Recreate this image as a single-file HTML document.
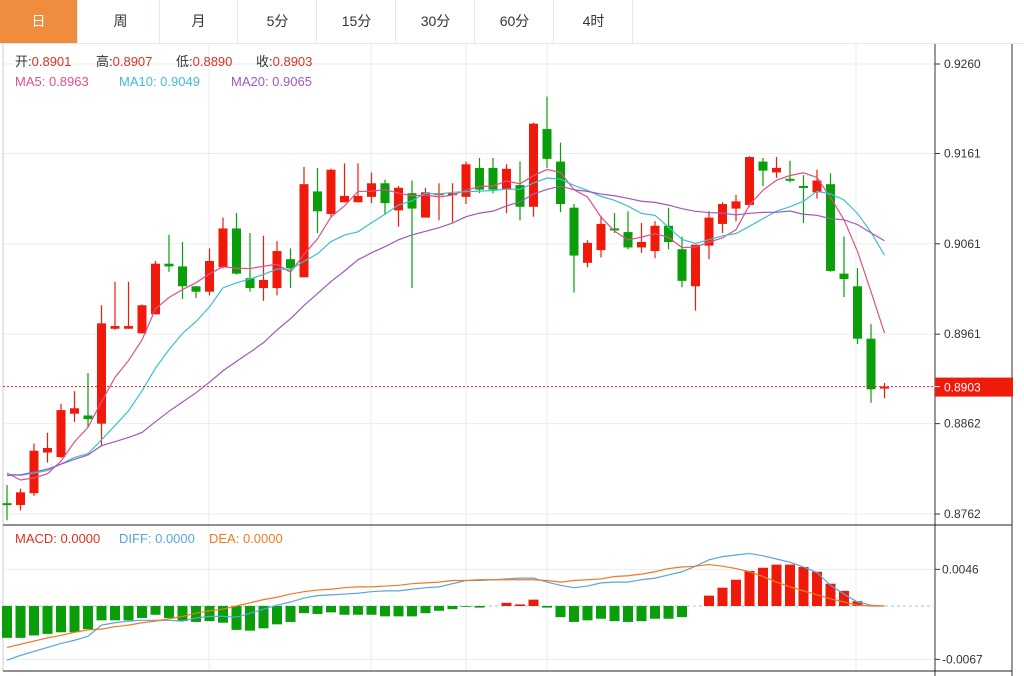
<!DOCTYPE html>
<html><head><meta charset="utf-8">
<style>
body{margin:0;width:1024px;height:676px;background:#fff;font-family:"Liberation Sans","Noto Sans CJK SC",sans-serif;overflow:hidden;position:relative}
.tabs{position:absolute;left:0;top:0;width:1024px;height:44px;border-bottom:1px solid #e3e6ea;box-sizing:border-box}
.tab{position:absolute;top:0;height:43px;width:78px;line-height:43px;text-align:center;font-size:14px;color:#333;border-right:1px solid #e3e6ea;box-sizing:border-box}
.tab.on{background:#f08c3e;color:#fff}
svg{position:absolute;left:0;top:0}
</style></head><body>
<div class="tabs">
<div class="tab on" style="left:0">日</div>
<div class="tab" style="left:82px">周</div>
<div class="tab" style="left:160px">月</div>
<div class="tab" style="left:239px">5分</div>
<div class="tab" style="left:318px">15分</div>
<div class="tab" style="left:397px">30分</div>
<div class="tab" style="left:476px">60分</div>
<div class="tab" style="left:555px">4时</div>
</div>
<svg id="chart" width="1024" height="676"></svg>
<script>
const opens=[0.8774,0.8772,0.8785,0.8830,0.8825,0.8873,0.8871,0.8862,0.8967,0.8967,0.8962,0.8983,0.9039,0.9036,0.9014,0.9008,0.9035,0.9078,0.9023,0.9012,0.9012,0.9044,0.9024,0.9119,0.9094,0.9107,0.9107,0.9113,0.9128,0.9098,0.9117,0.9090,0.9116,0.9116,0.9113,0.9145,0.9145,0.9121,0.9126,0.9102,0.9188,0.9152,0.9101,0.9040,0.9054,0.9078,0.9074,0.9057,0.9053,0.9081,0.9055,0.9014,0.9059,0.9083,0.9100,0.9104,0.9152,0.9140,0.9133,0.9125,0.9118,0.9127,0.9028,0.9014,0.8956,0.8901];
const highs=[0.8794,0.8790,0.8840,0.8852,0.8884,0.8898,0.8918,0.8993,0.9019,0.9019,0.8994,0.9042,0.9071,0.9063,0.9014,0.9056,0.9090,0.9095,0.9073,0.9070,0.9064,0.9056,0.9146,0.9145,0.9144,0.9150,0.9150,0.9140,0.9132,0.9125,0.9131,0.9123,0.9128,0.9128,0.9152,0.9156,0.9156,0.9149,0.9152,0.9195,0.9224,0.9173,0.9105,0.9065,0.9092,0.9095,0.9097,0.9084,0.9086,0.9101,0.9069,0.9060,0.9097,0.9107,0.9115,0.9158,0.9156,0.9157,0.9153,0.9137,0.9143,0.9139,0.9069,0.9034,0.8972,0.8907];
const lows=[0.8755,0.8766,0.8782,0.8819,0.8824,0.8864,0.8858,0.8838,0.8966,0.8967,0.8962,0.8983,0.9030,0.9000,0.9001,0.9004,0.9034,0.9027,0.9008,0.8998,0.9004,0.9012,0.9024,0.9073,0.9090,0.9107,0.9107,0.9106,0.9093,0.9080,0.9012,0.9090,0.9087,0.9085,0.9105,0.9117,0.9117,0.9095,0.9087,0.9091,0.9145,0.9096,0.9007,0.9035,0.9046,0.9073,0.9055,0.9051,0.9045,0.9055,0.9013,0.8987,0.9044,0.9073,0.9086,0.9102,0.9125,0.9134,0.9129,0.9084,0.9111,0.9030,0.9002,0.8950,0.8885,0.8890];
const closes=[0.8772,0.8786,0.8832,0.8835,0.8877,0.8879,0.8867,0.8973,0.8970,0.8970,0.8993,0.9039,0.9036,0.9014,0.9008,0.9042,0.9078,0.9028,0.9012,0.9021,0.9053,0.9034,0.9127,0.9097,0.9143,0.9114,0.9114,0.9128,0.9106,0.9123,0.9100,0.9118,0.9117,0.9117,0.9149,0.9121,0.9121,0.9144,0.9102,0.9194,0.9155,0.9105,0.9048,0.9062,0.9083,0.9077,0.9057,0.9063,0.9081,0.9063,0.9020,0.9060,0.9090,0.9105,0.9108,0.9157,0.9142,0.9145,0.9131,0.9123,0.9131,0.9031,0.9022,0.8956,0.8900,0.8903];
const priorCloses=[0.8770,0.8772,0.8768,0.8770,0.8771,0.8769,0.8770,0.8880,0.8878,0.8882,0.8800,0.8806,0.8808,0.8805,0.8806,0.8825,0.8820,0.8812,0.8808];
const macdHist=[-0.0040,-0.0040,-0.0037,-0.0035,-0.0033,-0.0033,-0.0029,-0.0018,-0.0018,-0.0018,-0.0015,-0.0011,-0.0015,-0.0019,-0.0020,-0.0019,-0.0021,-0.0030,-0.0031,-0.0028,-0.0023,-0.0020,-0.0009,-0.0010,-0.0008,-0.0011,-0.0011,-0.0011,-0.0013,-0.0013,-0.0013,-0.0009,-0.0006,-0.0004,-0.0001,-0.0002,0,0.0004,0.0002,0.0008,-0.0002,-0.0014,-0.0020,-0.0018,-0.0016,-0.0019,-0.0020,-0.0019,-0.0016,-0.0016,-0.0014,0,0.0013,0.0023,0.0033,0.0044,0.0048,0.0052,0.0052,0.0049,0.0043,0.0028,0.0019,0.0006,0,0];
const diffVals=[-0.0068,-0.0062,-0.0057,-0.0052,-0.0047,-0.0043,-0.0038,-0.0024,-0.0021,-0.0019,-0.0018,-0.0018,-0.0018,-0.0019,-0.0015,-0.0013,-0.0013,-0.0014,-0.0009,-0.0004,0.0001,0.0005,0.0010,0.0013,0.0014,0.0015,0.0016,0.0018,0.0019,0.0019,0.0021,0.0023,0.0024,0.0028,0.0032,0.0032,0.0033,0.0034,0.0035,0.0035,0.0030,0.0026,0.0023,0.0025,0.0029,0.0030,0.0030,0.0033,0.0035,0.0039,0.0043,0.0050,0.0058,0.0062,0.0064,0.0066,0.0063,0.0059,0.0055,0.0049,0.0042,0.0026,0.0015,0.0005,0.0001,0];
const deaVals=[-0.0052,-0.0048,-0.0044,-0.0040,-0.0037,-0.0033,-0.0030,-0.0029,-0.0026,-0.0024,-0.0021,-0.0019,-0.0016,-0.0013,-0.0009,-0.0006,-0.0004,0,0.0004,0.0008,0.0011,0.0015,0.0018,0.0020,0.0021,0.0023,0.0024,0.0024,0.0025,0.0026,0.0028,0.0029,0.0030,0.0032,0.0032,0.0033,0.0033,0.0033,0.0033,0.0033,0.0032,0.0030,0.0032,0.0033,0.0034,0.0037,0.0038,0.0040,0.0043,0.0047,0.0049,0.0050,0.0052,0.0050,0.0047,0.0043,0.0037,0.0030,0.0024,0.0019,0.0014,0.0009,0.0005,0.0001,0,0];
const priceTicks=["0.9260","0.9161","0.9061","0.8961","0.8862","0.8762"];
const macdTicks=["0.0046","-0.0067"];
const lastPrice=0.8903;

const NS="http://www.w3.org/2000/svg";
const svg=document.getElementById('chart');
function mk(tag,attrs,parent){const e=document.createElementNS(NS,tag);for(const k in attrs)e.setAttribute(k,attrs[k]);(parent||svg).appendChild(e);return e;}
const xOf=i=>7+i*13.5;
const yP=v=>64+(0.9260-v)*(450/0.0498);
const yM=v=>606-v*(90/0.0113);
const PR=935;

[209,371,466,547,856].forEach(x=>{const l=mk('line',{x1:x,x2:x,y1:44,y2:671,stroke:'#e6edf2'});

});
priceTicks.forEach(t=>{const y=yP(parseFloat(t));
const g=mk('line',{x1:3,x2:PR,y1:y,y2:y,stroke:'#e6edf2'});


mk('line',{x1:PR,x2:PR+5,y1:y,y2:y,stroke:'#333'});
const tx=mk('text',{x:944,y:y+4,'font-size':12,fill:'#333'});tx.textContent=t;

});
macdTicks.forEach(t=>{const y=yM(parseFloat(t));
const g=mk('line',{x1:3,x2:PR,y1:y,y2:y,stroke:'#e6edf2'});


mk('line',{x1:PR,x2:PR+5,y1:y,y2:y,stroke:'#333'});
const tx=mk('text',{x:942,y:y+4,'font-size':12,fill:'#333'});tx.textContent=t;

});
mk('line',{x1:3,x2:3,y1:44,y2:671,stroke:'#ccc'});
mk('line',{x1:PR,x2:PR,y1:44,y2:676,stroke:'#333'});
mk('line',{x1:1012,x2:1012,y1:44,y2:676,stroke:'#333'});
mk('line',{x1:3,x2:1012,y1:525,y2:525,stroke:'#222'});
mk('line',{x1:3,x2:1012,y1:671,y2:671,stroke:'#222'});
mk('line',{x1:3,x2:PR,y1:606,y2:606,stroke:'#9cc6e0','stroke-dasharray':'3,3'});

opens.forEach((o,i)=>{const c=closes[i],up=c>=o,col=up?'#f01a0a':'#0a9e0a',x=xOf(i);
const w=mk('line',{x1:x,x2:x,y1:yP(highs[i]),y2:yP(lows[i]),stroke:col,'stroke-width':1.2});


const t=Math.min(yP(o),yP(c)),h=Math.max(2,Math.abs(yP(o)-yP(c)));
const b=mk('rect',{x:x-4.5,y:t,width:9,height:h,fill:col});

});

const all=priorCloses.concat(closes);
function ma(n){return closes.map((_,i)=>{const j=i+priorCloses.length;let s=0;for(let k=j-n+1;k<=j;k++)s+=all[k];return s/n;});}
[[5,'#e0508a','ma5-line'],[10,'#3bbfd0','ma10-line'],[20,'#a058c0','ma20-line']].forEach(([n,col,nm])=>{
const v=ma(n);const p=mk('polyline',{points:v.map((m,i)=>xOf(i)+','+yP(m)).join(' '),fill:'none',stroke:col,'stroke-width':1.2});

});

const ly=yP(lastPrice);
mk('line',{x1:3,x2:PR,y1:ly,y2:ly,stroke:'#e02020','stroke-dasharray':'2,2'});
const lb=mk('rect',{x:PR,y:ly-9,width:78,height:19,fill:'#f01a0a'});


const lt=mk('text',{x:944,y:ly+5,'font-size':12,fill:'#fff'});lt.textContent='0.8903';
mk('line',{x1:PR,x2:PR+5,y1:ly,y2:ly,stroke:'#fff'});

macdHist.forEach((v,i)=>{if(v===0)return;const x=xOf(i),y0=yM(0),y1=yM(v);
const r=mk('rect',{x:x-5,y:Math.min(y0,y1),width:10,height:Math.abs(y1-y0),fill:v>0?'#f01a0a':'#0a9e0a'});

});
const dl=mk('polyline',{points:diffVals.map((v,i)=>xOf(i)+','+yM(v)).join(' '),fill:'none',stroke:'#5aa5e0','stroke-width':1.2});


const el=mk('polyline',{points:deaVals.map((v,i)=>xOf(i)+','+yM(v)).join(' '),fill:'none',stroke:'#f07a20','stroke-width':1.2});



function leg(x,y,parts,nm){const t=mk('text',{x:x,y:y,'font-size':13});


parts.forEach(([s,c])=>{const sp=mk('tspan',{fill:c},t);sp.textContent=s;});}
leg(15,66,[['开:','#333'],['0.8901','#e0301e']],'open-legend');
leg(96,66,[['高:','#333'],['0.8907','#e0301e']],'high-legend');
leg(176,66,[['低:','#333'],['0.8890','#e0301e']],'low-legend');
leg(256,66,[['收:','#333'],['0.8903','#e0301e']],'close-legend');
leg(15,86,[['MA5: 0.8963','#e0508a']],'ma5-legend');
leg(119,86,[['MA10: 0.9049','#3bbfd0']],'ma10-legend');
leg(231,86,[['MA20: 0.9065','#a058c0']],'ma20-legend');
leg(15,543,[['MACD: 0.0000','#e0301e']],'macd-legend');
leg(119,543,[['DIFF: 0.0000','#5aa5e0']],'diff-legend');
leg(209,543,[['DEA: 0.0000','#f07a20']],'dea-legend');
</script>
</body></html>
